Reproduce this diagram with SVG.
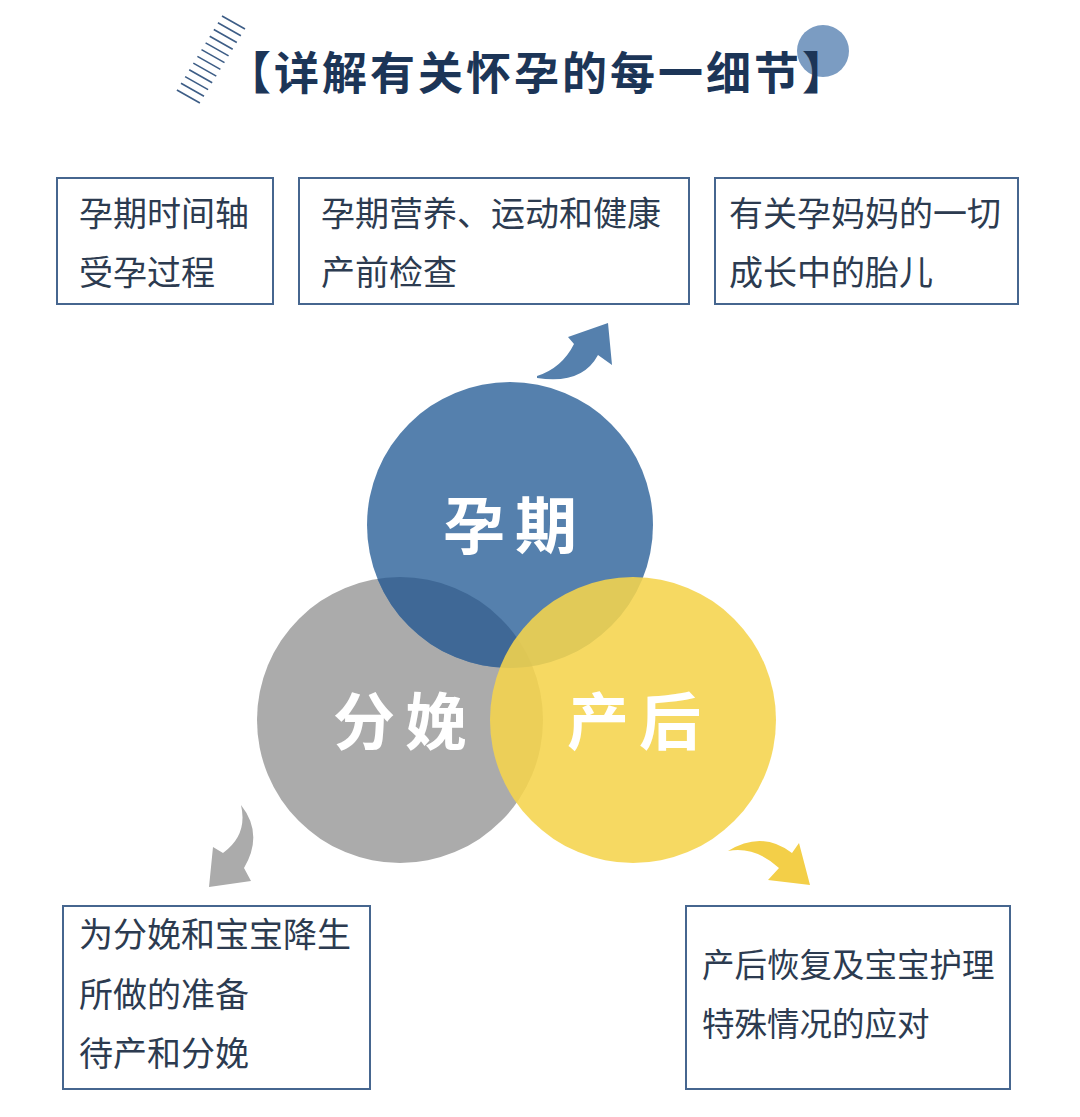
<svg xmlns="http://www.w3.org/2000/svg" width="1080" height="1117" viewBox="0 0 1080 1117">
<defs>
<style>
.box{fill:#ffffff;stroke:#46668f;stroke-width:2}
.bt{font-family:"Noto Sans CJK SC","Noto Sans",sans-serif;font-size:34px;fill:#2c3b50}
.cl{font-family:"Noto Sans CJK SC","Noto Sans",sans-serif;font-size:62px;font-weight:700;fill:#ffffff;letter-spacing:10px}
.title{font-family:"Noto Sans CJK SC",sans-serif;font-size:45px;font-weight:700;fill:#1c3557;letter-spacing:3px}
</style>
<clipPath id="cg"><circle cx="400" cy="720" r="143"/></clipPath>
</defs>
<rect width="1080" height="1117" fill="#ffffff"/>
<g id="title">
<path d="M222,16 l23,13 M217.9,22.7 l23,13 M213.8,29.5 l23,13 M209.7,36.2 l23,13 M205.6,42.9 l23,13 M201.5,49.6 l23,13 M197.4,56.4 l23,13 M193.3,63.1 l23,13 M189.2,69.8 l23,13 M185.1,76.6 l23,13 M181,83.3 l23,13 M176.9,90 l23,13" stroke="#3d5d86" stroke-width="1.6" fill="none"/>
<circle cx="823" cy="51" r="26" fill="#7b9cc2"/>
<text class="title" x="226" y="90">【详解有关怀孕的每一细节】</text>
</g>
<g id="box1"><rect class="box" x="57" y="178" width="216" height="126"/><text class="bt" x="79" y="226">孕期时间轴</text><text class="bt" x="79" y="285">受孕过程</text></g>
<g id="box2"><rect class="box" x="299" y="178" width="390" height="126"/><text class="bt" x="321" y="226">孕期营养、运动和健康</text><text class="bt" x="321" y="285">产前检查</text></g>
<g id="box3"><rect class="box" x="715" y="178" width="303" height="126"/><text class="bt" x="729" y="226">有关孕妈妈的一切</text><text class="bt" x="729" y="285">成长中的胎儿</text></g>
<g id="circle-fenmian"><circle cx="400" cy="720" r="143" fill="#ababab"/></g>
<g id="circle-yunqi"><circle cx="510" cy="525" r="143" fill="#5580ad"/><circle cx="510" cy="525" r="143" fill="#3f6896" clip-path="url(#cg)"/></g>
<g id="circle-chanhou"><circle cx="633" cy="720" r="143" fill="#f5d44c" fill-opacity="0.88"/></g>
<g id="labels">
<text class="cl" x="515" y="549" text-anchor="middle">孕期</text>
<text class="cl" x="405" y="745" text-anchor="middle">分娩</text>
<text class="cl" x="639" y="745" text-anchor="middle">产后</text>
</g>
<g id="connectors">
<path d="M537,376 Q562,368 574,344 L568,337 L608,323 L612,365 L598,355 Q582,385 537,378 Z" fill="#5580ad"/>
<path d="M241,805 Q264,834 244,868 L251,881 L209,887 L213,847 L223,853 Q248,835 241,805 Z" fill="#ababab"/>
<path d="M728,851 Q762,830 792,853 L799,843 L810,885 L768,880 L779,868 Q755,846 728,851 Z" fill="#f3cf48"/>
</g>
<g id="box4"><rect class="box" x="63" y="906" width="307" height="183"/><text class="bt" x="79" y="947">为分娩和宝宝降生</text><text class="bt" x="79" y="1007">所做的准备</text><text class="bt" x="79" y="1066">待产和分娩</text></g>
<g id="box5"><rect class="box" x="686" y="906" width="324" height="183"/><text class="bt" x="702" y="977" style="font-size:32.5px">产后恢复及宝宝护理</text><text class="bt" x="702" y="1036" style="font-size:32.5px">特殊情况的应对</text></g>
</svg>
